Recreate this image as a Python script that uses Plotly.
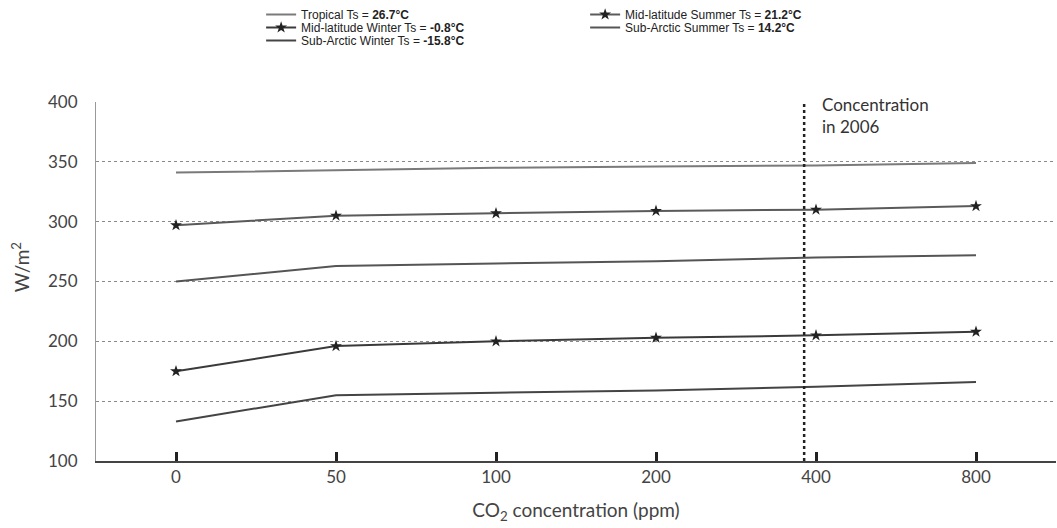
import math
import plotly.graph_objects as go

co2_ppm = ["0", "50", "100", "200", "400", "800"]
tropical = [341, 343, 345, 346, 347, 349]
midlat_summer = [297, 305, 307, 309, 310, 313]
midlat_winter = [175, 196, 200, 203, 205, 208]
subarctic_summer = [250, 263, 265, 267, 270, 272]
subarctic_winter = [133, 155, 157, 159, 162, 166]
conc_2006 = 380

# (legend label, values, line colour, star markers, legend row)
series = [
    ("Tropical Ts = <b>26.7°C</b>", tropical, "#7a7a7a", False, "legend"),
    ("Mid-latitude Summer Ts = <b>21.2°C</b>", midlat_summer, "#5a5a5a", True, "legend"),
    ("Mid-latitude Winter Ts = <b>-0.8°C</b>", midlat_winter, "#3a3a3a", True, "legend2"),
    ("Sub-Arctic Summer Ts = <b>14.2°C</b>", subarctic_summer, "#555555", False, "legend2"),
    ("Sub-Arctic Winter Ts = <b>-15.8°C</b>", subarctic_winter, "#444444", False, "legend3"),
]

xpos = list(range(len(co2_ppm)))
fig = go.Figure()
for name, vals, color, mk, lg in series:
    fig.add_trace(go.Scatter(
        x=xpos, y=vals, name=name, legend=lg,
        mode="lines+markers" if mk else "lines",
        line=dict(color=color, width=2),
        marker=dict(symbol="star", size=9, color="#222222"),
    ))

# position of the 2006 concentration on the (log-spaced) category axis
x2006 = 3 + math.log2(conc_2006 / 200)
fig.add_shape(type="line", x0=x2006, x1=x2006, y0=100, y1=400,
              xref="x", yref="y", line=dict(color="#222222", width=2.5, dash="dot"))
fig.add_annotation(x=x2006, y=400, xref="x", yref="y", xanchor="left", yanchor="top",
                   xshift=16, yshift=10, align="left", showarrow=False,
                   text="Concentration<br>in 2006",
                   font=dict(family="Lato", size=17, color="#333333"))
# y-axis title
fig.add_annotation(x=0, y=0.54, xref="paper", yref="paper", xanchor="center", yanchor="middle",
                   xshift=-76, showarrow=False, textangle=-90,
                   text="W/m<sup>2</sup>",
                   font=dict(family="Lato", size=19, color="#444444"))

W, H = 1057, 528
M_L, M_R, M_T, M_B = 96, 1, 101, 67
plot_h = H - M_T - M_B

def row_y(py):
    return 1 + (M_T - py) / plot_h

leg_common = dict(orientation="h", xanchor="left", yanchor="top",
                  entrywidth=279, entrywidthmode="pixels",
                  font=dict(family="Liberation Sans", size=12, color="#222222"),
                  itemwidth=30, bgcolor="rgba(0,0,0,0)", borderwidth=0)

fig.update_layout(
    width=W, height=H,
    margin=dict(l=M_L, r=M_R, t=M_T, b=M_B),
    paper_bgcolor="white", plot_bgcolor="white",
    font=dict(family="Lato", color="#333333"),
    showlegend=True,
    legend=dict(x=0.172, y=row_y(0), **leg_common),
    legend2=dict(x=0.172, y=row_y(13), **leg_common),
    legend3=dict(x=0.172, y=row_y(26), **leg_common),
    xaxis=dict(
        tickmode="array", tickvals=xpos, ticktext=co2_ppm,
        range=[-0.5, 5.5], showgrid=False, zeroline=False, automargin=False,
        showline=True, linecolor="#444444", linewidth=1.5,
        ticks="inside", ticklen=9, tickwidth=2.5, tickcolor="#222222",
        tickfont=dict(family="Lato", size=17, color="#444444"),
        title=dict(text="CO<sub>2</sub> concentration (ppm)",
                   font=dict(family="Lato", size=19, color="#444444"), standoff=18),
    ),
    yaxis=dict(
        range=[100, 400], tickvals=[100, 150, 200, 250, 300, 350, 400],
        showgrid=True, gridcolor="#8a8a8a", griddash="dot", gridwidth=1,
        zeroline=False, showline=True, linecolor="#999999", linewidth=1,
        automargin=False, ticklabelstandoff=14,
        tickfont=dict(family="Lato", size=17, color="#444444"),
        ticks="",
    ),
)

fig.write_html("out.html", config={"displayModeBar": False},
               post_script="document.body.style.margin='0px';")
